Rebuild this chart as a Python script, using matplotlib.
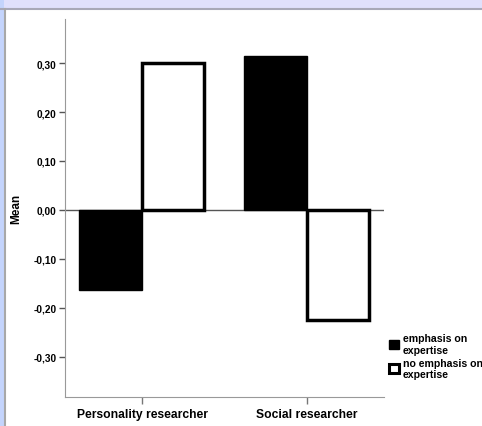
import numpy as np
import matplotlib.pyplot as plt
from matplotlib.patches import Rectangle
from matplotlib.lines import Line2D

categories = ["Personality researcher", "Social researcher"]
emphasis = [-0.164, 0.315]
no_emphasis = [0.30, -0.224]
series_names = ["emphasis on\nexpertise", "no emphasis on\nexpertise"]
yticks = [-0.3, -0.2, -0.1, 0.0, 0.1, 0.2, 0.3]

W, H = 482, 427
fig = plt.figure(figsize=(W / 100, H / 100), dpi=100)
fig.patch.set_facecolor("white")

# window chrome around the chart
fig.add_artist(Rectangle((0, 1 - 9 / H), 1, 9 / H, transform=fig.transFigure,
                         facecolor="#e0e0fc", edgecolor="none"))
fig.add_artist(Rectangle((0, 0), 4 / W, 1, transform=fig.transFigure,
                         facecolor="#c4d4fc", edgecolor="none"))
fig.add_artist(Line2D([0, 1], [1 - 10 / H, 1 - 10 / H], transform=fig.transFigure,
                      color="#a8a8b8", lw=1.5))
fig.add_artist(Line2D([5 / W, 5 / W], [0, 1 - 10 / H], transform=fig.transFigure,
                      color="#a8a8a8", lw=1.5))

ax = fig.add_axes([65 / W, 1 - 398 / H, (384 - 65) / W, (398 - 20) / H])
x = np.arange(len(categories))
bw = 0.38
ax.bar(x - bw / 2, emphasis, bw, color="black", edgecolor="black", lw=1)
ax.bar(x + bw / 2, no_emphasis, bw * 0.985, color="white", edgecolor="black", lw=2.5)
ax.axhline(0, color="#555555", lw=1, zorder=0.5)

ax.set_xlim(-0.467, 1.467)
ax.set_ylim(-0.382, 0.39)
ax.set_yticks(yticks)
ax.set_yticklabels([f"{v:.2f}".replace(".", ",") for v in yticks],
                   fontsize=7.3, fontweight="bold", family="Liberation Sans")
ax.set_xticks(x)
ax.set_xticklabels(categories, fontsize=8.7, fontweight="bold", family="Liberation Sans")
ax.set_ylabel("Mean", fontsize=8.5, fontweight="bold", family="Liberation Sans", labelpad=8)
for s in ["top", "right"]:
    ax.spines[s].set_visible(False)
for s in ["left", "bottom"]:
    ax.spines[s].set_color("#999999")
ax.tick_params(axis="y", length=4, width=1, color="#555555", pad=2)
ax.tick_params(axis="x", length=5, width=1, color="#777777", pad=3)

handles = [Rectangle((0, 0), 1, 1, facecolor="black", edgecolor="black"),
           Rectangle((0, 0), 1, 1, facecolor="white", edgecolor="black", lw=2.2)]
fig.legend(handles, series_names, loc="upper left",
           bbox_to_anchor=(384 / W, 1 - 329 / H), frameon=False,
           prop={"size": 7.6, "weight": "bold", "family": "Liberation Sans"},
           handlelength=0.9, handleheight=0.9, handletextpad=0.4,
           labelspacing=0.25, borderpad=0)

fig.savefig("out.png", dpi=100)
